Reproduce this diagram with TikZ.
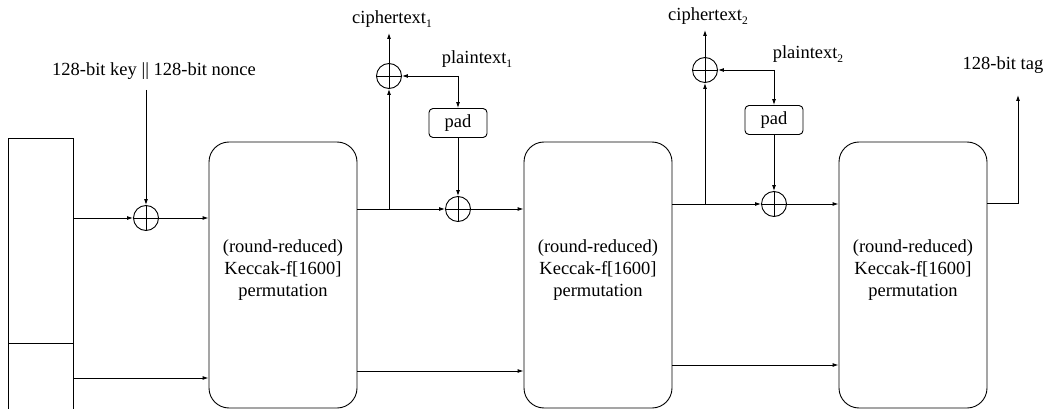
\documentclass[tikz,border=0pt]{standalone}
\usepackage{fontspec}
\setmainfont{Liberation Serif}
\usetikzlibrary{arrows.meta}
\newcommand{\lowidx}[1]{\raisebox{-0.55ex}{\fontsize{11.5}{11.5}\selectfont #1}}
\begin{document}
\begin{tikzpicture}[x=1pt,y=-1pt,
  every node/.style={font=\fontsize{18.5}{21.7}\selectfont},
  ln/.style={line width=0.9pt},
  arr/.style={line width=0.9pt,-{Latex[length=6pt,width=4pt]}},
  perm/.style={draw,line width=0.9pt,rounded corners=20pt,minimum width=148pt,minimum height=266pt,inner sep=0pt},
  xorop/.style={draw,circle,line width=0.9pt,minimum size=25pt,inner sep=0pt,
    path picture={\draw[line width=0.9pt] (path picture bounding box.north) -- (path picture bounding box.south)
      (path picture bounding box.west) -- (path picture bounding box.east);}},
  padbox/.style={draw,rounded corners=4pt,line width=0.9pt,minimum width=58pt,minimum height=29pt,inner sep=0pt},
  lbl/.style={align=center,inner sep=0pt}]
\useasboundingbox (0,0) rectangle (1047,409);

% state block
\draw[ln] (8,409) -- (8,138) -- (73,138) -- (73,409);
\draw[ln] (8,343) -- (73,343);
\coordinate (L1) at (73,218);
\coordinate (L2) at (73,378);

% permutation boxes
\node[perm] (B1) at (283,275) {};
\node[perm] (B2) at (598,275) {};
\node[perm] (B3) at (913,275) {};
\node[lbl] (T1) at (283,270) {(round-reduced)\\Keccak-f[1600]\\permutation};
\node[lbl] (T2) at (598,270) {(round-reduced)\\Keccak-f[1600]\\permutation};
\node[lbl] (T3) at (913,270) {(round-reduced)\\Keccak-f[1600]\\permutation};

% xors
\node[xorop] (X1) at (146,218) {};
\node[xorop] (X2) at (458,209) {};
\node[xorop] (X3) at (389,76) {};
\node[xorop] (X4) at (774,204) {};
\node[xorop] (X5) at (705,70) {};

% pads
\node[padbox] (P1) at (458,123) {pad};
\node[padbox] (P2) at (774,120) {pad};

% labels
\node[lbl] (key) at (154,71) {128-bit key || 128-bit nonce};
\node[lbl] (c1) at (392,19) {ciphertext\lowidx{1}};
\node[lbl] (p1) at (477,59) {plaintext\lowidx{1}};
\node[lbl] (c2) at (708,16) {ciphertext\lowidx{2}};
\node[lbl] (p2) at (808,54) {plaintext\lowidx{2}};
\node[lbl] (tag) at (1003,65) {128-bit tag};

% helper coordinates
\coordinate (K0) at (146,90);
\coordinate (C1) at (389,33);
\coordinate (C2) at (705,30);
\coordinate (Q1) at (458,76);
\coordinate (Q2) at (774,70);
\coordinate (R1) at (389,209);
\coordinate (R2) at (705,204);
\coordinate (G0) at (1018,203);
\coordinate (G1) at (1018,95);

% stage 0
\draw[arr] (K0) -- (X1);
\draw[arr] (L1) -- (X1);
\draw[arr] (X1) -- (B1.west |- X1);
\draw[arr] (L2) -- (B1.west |- L2);

% stage 1
\draw[ln] (B1.east |- X2) -- (R1);
\draw[arr] (R1) -- (X2);
\draw[arr] (X2) -- (B2.west |- X2);
\draw[arr] (R1) -- (X3);
\draw[arr] (X3) -- (C1);
\draw[arr] (Q1) -- (X3);
\draw[arr] (Q1) -- (P1);
\draw[arr] (P1) -- (X2);
\draw[arr] (B1.east |- 0,371) -- (B2.west |- 0,371);

% stage 2
\draw[ln] (B2.east |- X4) -- (R2);
\draw[arr] (R2) -- (X4);
\draw[arr] (X4) -- (B3.west |- X4);
\draw[arr] (R2) -- (X5);
\draw[arr] (X5) -- (C2);
\draw[arr] (Q2) -- (X5);
\draw[arr] (Q2) -- (P2);
\draw[arr] (P2) -- (X4);
\draw[arr] (B2.east |- 0,365) -- (B3.west |- 0,365);

% output
\draw[arr] (B3.east |- G0) -- (G0) -- (G1);
\end{tikzpicture}
\end{document}
